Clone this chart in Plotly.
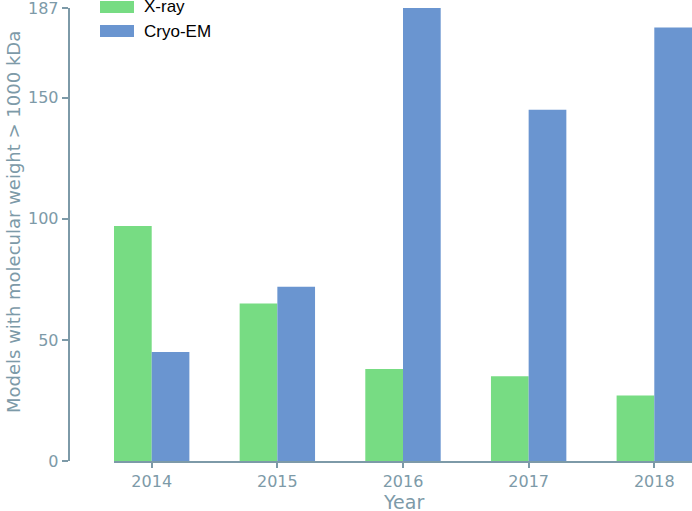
import plotly.graph_objects as go

years = ["2014", "2015", "2016", "2017", "2018"]
xray = [97, 65, 38, 35, 27]
cryo = [45, 72, 187, 145, 179]
y_ticks = [0, 50, 100, 150, 187]
series_names = ["X-ray", "Cryo-EM"]
colors = ["#77dc83", "#6a95d0"]
axis_color = "#7d9aa8"
x_title = "Year"
y_title = "Models with molecular weight > 1000 kDa"

fig = go.Figure()
fig.add_trace(go.Bar(x=years, y=xray, name=series_names[0], marker_color=colors[0],
                     marker_line_width=0, showlegend=False))
fig.add_trace(go.Bar(x=years, y=cryo, name=series_names[1], marker_color=colors[1],
                     marker_line_width=0, showlegend=False))

# custom legend with wide swatches (plot area: top 8px, height 453px)
for i, (nm, c) in enumerate(zip(series_names, colors)):
    yc = (461 - (7 + 24 * i)) / 453
    fig.add_shape(type="rect", xref="paper", yref="paper",
                  x0=100 / 692, x1=134 / 692, y0=yc - 6 / 453, y1=yc + 6 / 453,
                  fillcolor=c, line_width=0)
    fig.add_annotation(xref="paper", yref="paper", x=142 / 692, y=yc,
                       text=nm, showarrow=False, xanchor="left", yanchor="middle",
                       font=dict(family="Liberation Sans, Arial", size=17, color="#000000"))

tickfont = dict(family="DejaVu Sans", size=16, color=axis_color)
titlefont = dict(family="DejaVu Sans", size=18, color=axis_color)

# axis titles as annotations for exact placement
fig.add_annotation(xref="paper", yref="paper", x=403 / 692, y=(461 - 502) / 453,
                   text=x_title, showarrow=False, xanchor="center", yanchor="middle",
                   font=dict(family="DejaVu Sans", size=19, color=axis_color))
fig.add_annotation(xref="paper", yref="paper", x=13 / 692, y=(461 - 222) / 453,
                   text=y_title, showarrow=False, textangle=-90,
                   xanchor="center", yanchor="middle", font=titlefont)

fig.update_layout(
    width=692, height=511,
    margin=dict(l=0, r=0, t=8, b=50),
    paper_bgcolor="white", plot_bgcolor="white",
    barmode="group", bargap=0.4, bargroupgap=0,
    xaxis=dict(domain=[114 / 692, 1], range=[-0.3, 4.3], showgrid=False,
               showline=True, linecolor=axis_color, linewidth=1.5,
               ticks="outside", ticklen=5, tickcolor=axis_color, tickwidth=1.5,
               tickfont=tickfont, zeroline=False, automargin=False,
               ticklabeloverflow="allow"),
    yaxis=dict(anchor="free", position=68.5 / 692, range=[0, 187.05], tickvals=y_ticks,
               showgrid=False, zeroline=False, showline=True, linecolor=axis_color, linewidth=1.5,
               ticks="outside", ticklen=6, tickcolor=axis_color, tickwidth=1.5,
               tickfont=tickfont, automargin=False, ticklabeloverflow="allow"),
)
fig.write_html("out.html", config={"displayModeBar": False},
               post_script="document.body.style.margin='0';")
